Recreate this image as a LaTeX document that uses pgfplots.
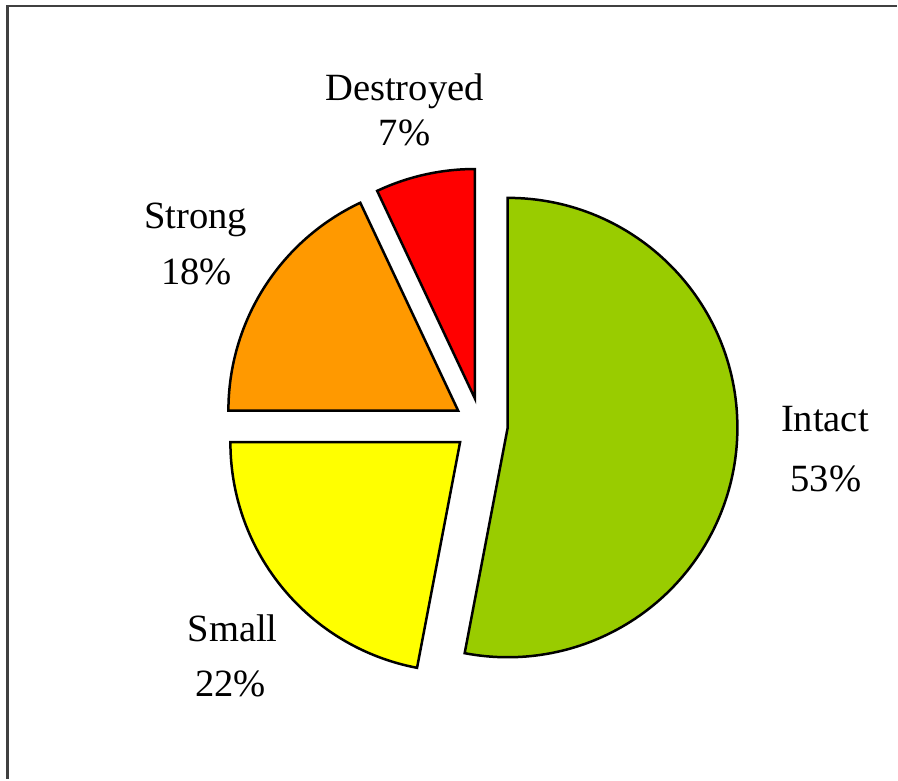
\documentclass[border=0pt]{standalone}
\usepackage{pgfplots}
\usepackage{pgfplotstable}
\pgfplotsset{compat=1.18}
\usetikzlibrary{calc}
\usepackage{fontspec}
\setmainfont{Liberation Serif}
\definecolor{cIntact}{HTML}{99CC00}
\definecolor{cSmall}{HTML}{FFFF00}
\definecolor{cStrong}{HTML}{FF9900}
\definecolor{cDestroyed}{HTML}{FF0000}
\definecolor{frame}{HTML}{404040}

\pgfplotstableread{
label value
Intact 53
Small 22
Strong 18
Destroyed 7
}\piedata

% cumulative angles, clockwise from 12 o'clock
\xdef\curangle{90}
\pgfplotstableforeachcolumnelement{value}\of\piedata\as\v{%
  \pgfmathsetmacro\e{\curangle - 3.6*\v}%
  \pgfmathsetmacro\m{(\curangle + \e)/2}%
  \expandafter\xdef\csname sliceS\pgfplotstablerow\endcsname{\curangle}%
  \expandafter\xdef\csname sliceE\pgfplotstablerow\endcsname{\e}%
  \expandafter\xdef\csname sliceM\pgfplotstablerow\endcsname{\m}%
  \xdef\curangle{\e}%
}

% slice: index, colour  (centre 481.5,354.4 px; radius 230 px; explode 27 px)
\newcommand\slice[2]{%
  \filldraw[fill=#2, draw=black, line width=1.25pt]
    ($(axis cs:481.5,354.4)+(\csname sliceM#1\endcsname:13.5pt)$)
    -- ++(\csname sliceS#1\endcsname:115pt)
    arc[start angle=\csname sliceS#1\endcsname, end angle=\csname sliceE#1\endcsname, radius=115pt]
    -- cycle;%
}

\begin{document}
\begin{tikzpicture}
\begin{axis}[
  x=0.5pt, y=0.5pt,
  xmin=0, xmax=898, ymin=0, ymax=780,
  hide axis, clip=false,
]
\path (axis cs:0,0) rectangle (axis cs:898,780);
% frame
\draw[frame, line width=1.2pt] (axis cs:7.5,0) -- (axis cs:7.5,774) -- (axis cs:898,774);

\slice{0}{cIntact}
\slice{1}{cSmall}
\slice{2}{cStrong}
\slice{3}{cDestroyed}

\tikzset{lbl/.style={anchor=base, inner sep=0pt, font=\fontsize{19.3}{23}\selectfont}}
\node[lbl] at (axis cs:405,679) {Destroyed};
\node[lbl] at (axis cs:405,634) {7\%};
\node[lbl] at (axis cs:196,551) {Strong};
\node[lbl] at (axis cs:197,495) {18\%};
\node[lbl] at (axis cs:826,348) {Intact};
\node[lbl] at (axis cs:827,288) {53\%};
\node[lbl] at (axis cs:233,138) {Small};
\node[lbl] at (axis cs:231,83) {22\%};
\end{axis}
\end{tikzpicture}
\end{document}
